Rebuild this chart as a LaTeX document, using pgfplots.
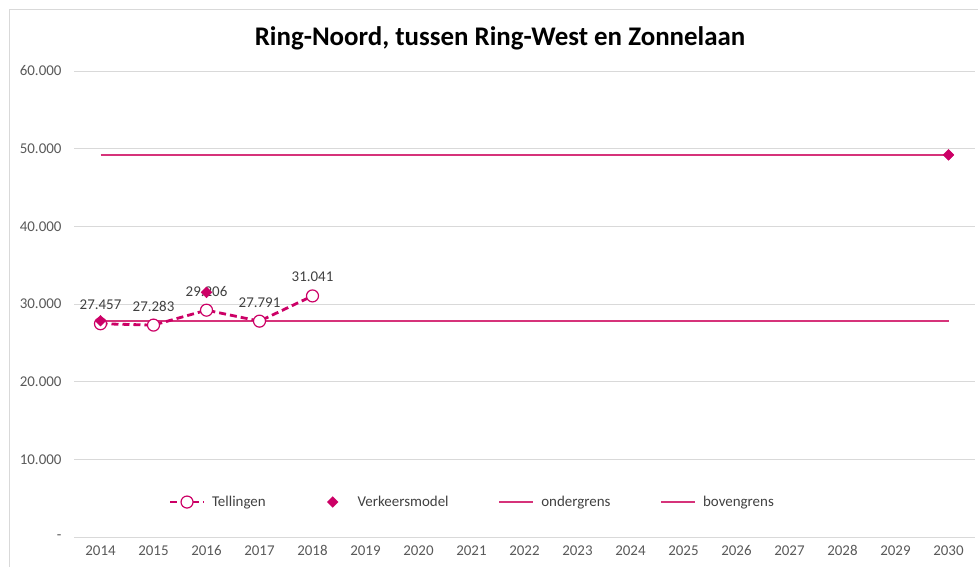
\documentclass[border=0pt]{standalone}
\usepackage{pgfplots}
\pgfplotsset{compat=1.18}
\usepackage{fontspec}
\setmainfont{Carlito}
\definecolor{mag}{HTML}{CC0066}
\definecolor{lim}{HTML}{D6337A}
\definecolor{gridc}{HTML}{D9D9D9}
\definecolor{tickc}{HTML}{595959}
\definecolor{txt}{HTML}{404040}

\begin{document}
\begin{tikzpicture}
  \useasboundingbox (0,0) rectangle (978bp,567bp);
  \draw[gridc, line width=0.8bp] (9bp,0) -- (9bp,558bp) -- (978bp,558bp);
  \node[font=\fontsize{27}{32}\selectfont\bfseries, text=black] at (500bp,529bp)
    {Ring-Noord, tussen Ring-West en Zonnelaan};
  \begin{axis}[
    at={(74bp,30bp)}, anchor=south west,
    scale only axis, width=901bp, height=466bp,
    xmin=2013.5, xmax=2030.5, ymin=0, ymax=60000,
    xtick={2014,...,2030},
    ytick={0,10000,...,60000},
    yticklabels={-,10.000,20.000,30.000,40.000,50.000,60.000},
    scaled y ticks=false,
    /pgf/number format/1000 sep={},
    /pgf/number format/assume math mode=true,
    major tick length=0pt,
    axis line style={draw=none},
    ymajorgrids=true, xmajorgrids=false,
    major grid style={gridc, line width=0.8bp},
    tick label style={font=\fontsize{15}{18}\selectfont, text=tickc},
    yticklabel style={xshift=-9bp},
    xticklabel style={yshift=-5bp},
    legend image code/.code={\path[draw=none,fill=none] (0bp,-4bp) rectangle (40bp,4bp);
      \draw[mark repeat=2,mark phase=2,#1] plot coordinates {(0bp,0bp)(17bp,0bp)(34bp,0bp)};},
    legend style={at={(0.442,0.075)}, anchor=center, draw=none, fill=none,
      font=\fontsize{15}{18}\selectfont, text=txt,
      /tikz/every even column/.append style={column sep=48bp}},
    legend columns=4,
  ]
    \addplot[lim, line width=1.3bp, forget plot] coordinates {(2014,27800)(2030,27800)};
    \addplot[lim, line width=1.3bp, forget plot] coordinates {(2014,49200)(2030,49200)};
    \addplot[mag, line width=2.8bp, dash pattern=on 7bp off 4bp, forget plot,
      mark=*, mark size=6bp, mark options={solid, fill=white, line width=1.2bp},
      point meta=explicit symbolic,
      nodes near coords,
      every node near coord/.append style={font=\fontsize{15}{18}\selectfont, text=txt, anchor=south, yshift=10bp}]
      coordinates {
      (2014,27457)[27.457]
      (2015,27283)[27.283]
      (2016,29206)[29.206]
      (2017,27791)[27.791]
      (2018,31041)[31.041]
    };
    \addplot[mag, only marks, mark=square*, mark size=3.8bp, mark options={rotate=45}, forget plot] coordinates {
      (2014,27850)(2016,31500)(2030,49200)};
    \addlegendimage{mag, line width=2.8bp, dash pattern=on 7bp off 4bp, mark=*, mark size=6bp, mark options={solid, fill=white, line width=1.2bp}}
    \addlegendentry{Tellingen}
    \addlegendimage{mag, only marks, mark=square*, mark size=3.8bp, mark options={rotate=45}}
    \addlegendentry{Verkeersmodel}
    \addlegendimage{lim, line width=1.3bp}
    \addlegendentry{ondergrens}
    \addlegendimage{lim, line width=1.3bp}
    \addlegendentry{bovengrens}
  \end{axis}
\end{tikzpicture}
\end{document}
